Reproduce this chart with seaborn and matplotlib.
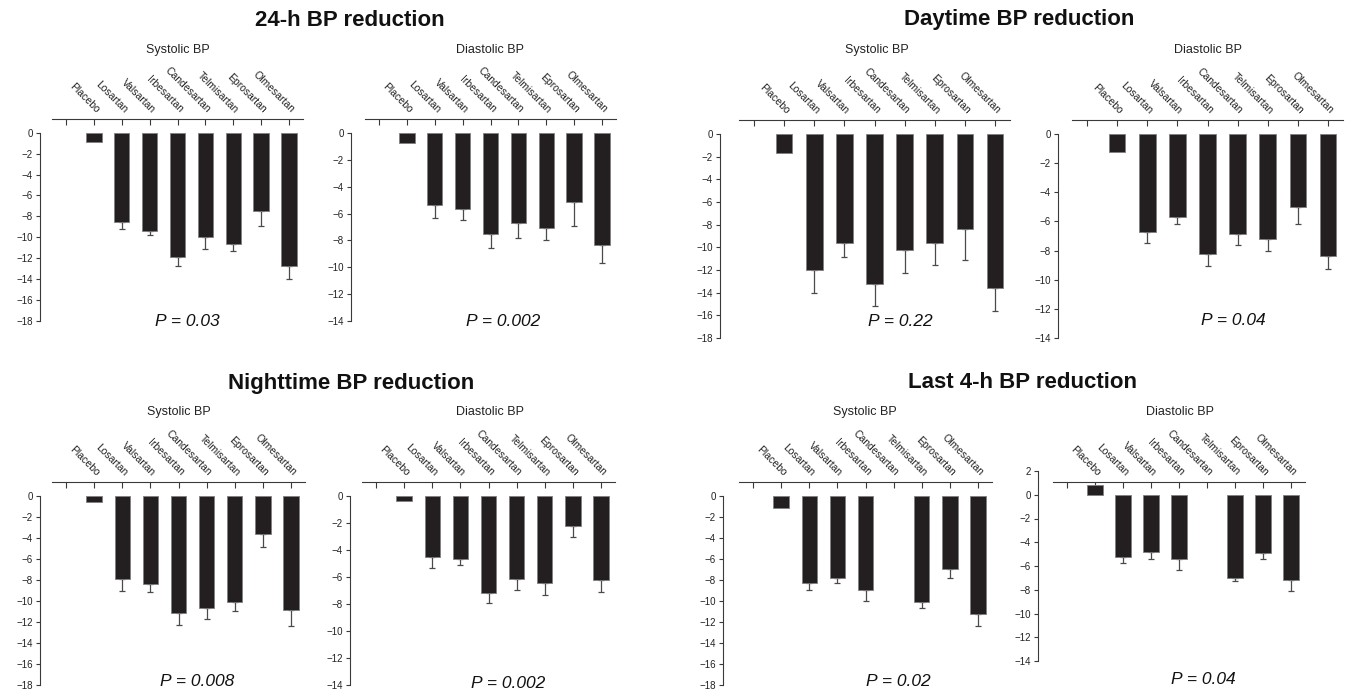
import numpy as np
import pandas as pd
import matplotlib
matplotlib.use("Agg")
import matplotlib.pyplot as plt
import seaborn as sns

# drug order along the top axis (first slot is left empty)
drugs = ["Placebo", "Losartan", "Valsartan", "Irbesartan", "Candesartan",
         "Telmisartan", "Eprosartan", "Olmesartan"]

# 24-h
sbp_24h = [-0.9, -8.5, -9.4, -11.9, -9.95, -10.65, -7.5, -12.75]
sbp_24h_err = [0, 0.75, 0.4, 0.8, 1.2, 0.65, 1.4, 1.25]
dbp_24h = [-0.75, -5.35, -5.65, -7.5, -6.7, -7.1, -5.15, -8.35]
dbp_24h_err = [0, 0.95, 0.8, 1.1, 1.1, 0.85, 1.75, 1.3]

# Daytime
sbp_day = [-1.7, -12.0, -9.6, -13.2, -10.2, -9.6, -8.4, -13.6]
sbp_day_err = [0, 2.0, 1.25, 2.0, 2.05, 2.0, 2.7, 2.0]
dbp_day = [-1.25, -6.7, -5.7, -8.25, -6.85, -7.2, -5.0, -8.4]
dbp_day_err = [0, 0.8, 0.5, 0.8, 0.8, 0.85, 1.2, 0.85]

# Nighttime
sbp_night = [-0.6, -7.9, -8.35, -11.15, -10.65, -10.05, -3.65, -10.85]
sbp_night_err = [0, 1.15, 0.75, 1.15, 1.1, 0.9, 1.25, 1.55]
dbp_night = [-0.35, -4.5, -4.65, -7.15, -6.15, -6.45, -2.2, -6.25]
dbp_night_err = [0, 0.8, 0.45, 0.8, 0.8, 0.85, 0.8, 0.85]

# Last 4-h (no candesartan bar)
sbp_last4 = [-1.1, -8.3, -7.85, -8.95, np.nan, -10.05, -7.0, -11.25]
sbp_last4_err = [0, 0.7, 0.45, 1.05, np.nan, 0.65, 0.85, 1.1]
dbp_last4 = [0.85, -5.2, -4.85, -5.4, np.nan, -7.0, -4.9, -7.15]
dbp_last4_err = [0, 0.55, 0.55, 0.9, np.nan, 0.25, 0.55, 0.95]

p_values = ["0.03", "0.002", "0.22", "0.04", "0.008", "0.002", "0.02", "0.04"]
block_titles = ["24-h BP reduction", "Daytime BP reduction",
                "Nighttime BP reduction", "Last 4-h BP reduction"]

sns.set_style("ticks")
plt.rcParams["font.family"] = ["Liberation Sans", "DejaVu Sans"]

W, H = 1346, 692
fig = plt.figure(figsize=(W / 100, H / 100), dpi=100)

ink = "#231f20"
axis_col = "#3a3a3a"


def add_axes_px(left, right, top, bottom):
    return fig.add_axes([left / W, 1 - bottom / H, (right - left) / W, (bottom - top) / H])


def draw_panel(ax, values, errors, ymin, ytop, ytick_top, spine_y, spine_pad):
    order = [""] + drugs
    df = pd.DataFrame({"drug": drugs, "change": values})
    sns.barplot(data=df, x="drug", y="change", order=order, color=ink,
                saturation=1, width=0.55, errorbar=None, edgecolor="#808080",
                linewidth=0.6, zorder=3, ax=ax)

    pos = np.array([order.index(d) for d in drugs])
    vals = np.array(values, dtype=float)
    errs = np.array(errors, dtype=float)
    keep = ~np.isnan(vals) & (np.nan_to_num(errs) > 0)
    ax.errorbar(pos[keep], vals[keep], yerr=[errs[keep], np.zeros(keep.sum())],
                fmt="none", ecolor="#4a4a4a", elinewidth=0.9, capsize=2.2,
                capthick=0.9, zorder=2)

    ax.set_xlim(-0.5, len(order) - 0.5)
    ax.set_ylim(ymin, ytop)
    ax.set_yticks(np.arange(ytick_top, ymin - 1, -2))
    ax.set_xlabel("")
    ax.set_ylabel("")

    ax.spines["right"].set_visible(False)
    ax.spines["bottom"].set_visible(False)
    ax.spines["top"].set_position(("data", spine_y))
    ax.spines["left"].set_position(("outward", spine_pad * 0.72))
    ax.spines["left"].set_bounds(ymin, ytick_top)
    for s in ("top", "left"):
        ax.spines[s].set_color(axis_col)
        ax.spines[s].set_linewidth(0.8)

    ax.xaxis.set_ticks_position("top")
    ax.set_xticks(range(len(order)))
    ax.set_xticklabels(order, rotation=-45, ha="right", va="bottom",
                       rotation_mode="anchor", fontsize=7.5, color="#222222")
    ax.tick_params(axis="x", direction="in", length=4, width=0.8, pad=3,
                   color=axis_col)
    ax.tick_params(axis="y", direction="out", length=3, width=0.8, pad=2,
                   labelsize=7, color=axis_col, labelcolor="#222222")


# (values, errors, ymin, ylim top, top tick, top spine y, left spine pad px, axes box px)
panels = [
    (sbp_24h, sbp_24h_err, -18, 1.31, 0, 1.31, 12, (52, 303, 119, 321)),
    (dbp_24h, dbp_24h_err, -14, 1.04, 0, 1.04, 14, (365, 616, 119, 321)),
    (sbp_day, sbp_day_err, -18, 1.24, 0, 1.24, 19, (739, 1010, 120, 338)),
    (dbp_day, dbp_day_err, -14, 0.96, 0, 0.96, 14, (1072, 1343, 120, 338)),
    (sbp_night, sbp_night_err, -18, 1.33, 0, 1.33, 12, (52, 305, 482, 685)),
    (dbp_night, dbp_night_err, -14, 1.04, 0, 1.04, 12, (362, 615, 482, 685)),
    (sbp_last4, sbp_last4_err, -18, 1.33, 0, 1.33, 16, (739, 992, 482, 685)),
    (dbp_last4, dbp_last4_err, -14, 2.0, 2, 1.1, 15, (1053, 1305, 471, 661)),
]

for vals, errs, ymin, ytop, ttop, sy, pad, box in panels:
    ax = add_axes_px(*box)
    draw_panel(ax, vals, errs, ymin, ytop, ttop, sy, pad)

# block titles
title_xy = [(350, 20), (1019, 20), (351, 383), (1022, 383)]
for t, (x, y) in zip(block_titles, title_xy):
    fig.text(x / W, 1 - y / H, t, ha="center", va="center", fontsize=16,
             fontweight="bold", color="#111111")

# Systolic / Diastolic headers
sub_xy = [(178, 50), (490, 50), (877, 50), (1208, 50),
          (179, 412), (490, 412), (865, 412), (1180, 412)]
for i, (x, y) in enumerate(sub_xy):
    label = "Systolic BP" if i % 2 == 0 else "Diastolic BP"
    fig.text(x / W, 1 - y / H, label, ha="center", va="center", fontsize=9,
             color="#222222")

# P values
p_xy = [(187, 322), (503, 322), (900, 322), (1233, 321),
        (197, 681), (508, 683), (898, 681), (1203, 680)]
for p, (x, y) in zip(p_values, p_xy):
    fig.text(x / W, 1 - y / H, f"P = {p}", ha="center", va="center",
             fontsize=12.5, fontstyle="italic", color="#111111")

fig.savefig("out.png", dpi=100)
